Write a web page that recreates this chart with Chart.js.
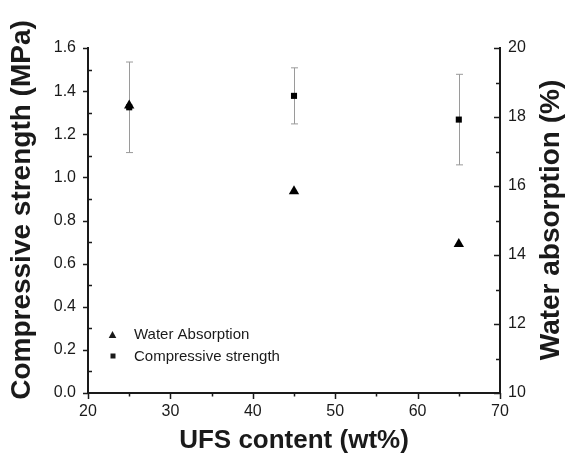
<!DOCTYPE html>
<html>
<head>
<meta charset="utf-8">
<title>UFS content vs strength and water absorption</title>
<script src="https://cdn.jsdelivr.net/npm/chart.js@4.4.0/dist/chart.umd.min.js"></script>
<style>
    html, body { margin: 0; padding: 0; background: #fff; }
    #wrap { width: 567px; height: 453px; }
</style>
</head>
<body>
<div id="wrap"><canvas id="chart"></canvas></div>
<script>
// UFS content (wt%)
const ufsContent = [25, 45, 65];
// Compressive strength (MPa) with error
const strength = [1.325, 1.378, 1.268];
const strengthErr = [0.21, 0.13, 0.21];
// Water absorption (%)
const absorption = [18.33, 15.85, 14.32];

// Axis ranges
const xRange = [20, 70];
const leftRange = [0, 1.6];
const rightRange = [10, 20];

const FONT = "'Liberation Sans', Arial, sans-serif";
const INK = '#1a1a1a';

// Gray error bars behind the squares
const errorBars = {
    id: 'errorBars',
    beforeDatasetsDraw(chart) {
        const ctx = chart.ctx;
        const x = chart.scales.x, y = chart.scales.y;
        ctx.save();
        ctx.strokeStyle = '#9a9a9a';
        ctx.lineWidth = 1;
        ufsContent.forEach((u, i) => {
            const px = Math.round(x.getPixelForValue(u)) + 0.5;
            const top = y.getPixelForValue(strength[i] + strengthErr[i]);
            const bot = y.getPixelForValue(strength[i] - strengthErr[i]);
            ctx.beginPath();
            ctx.moveTo(px, top); ctx.lineTo(px, bot);
            ctx.moveTo(px - 3.5, top); ctx.lineTo(px + 3.5, top);
            ctx.moveTo(px - 3.5, bot); ctx.lineTo(px + 3.5, bot);
            ctx.stroke();
        });
        ctx.restore();
    }
};

// Origin-style tick marks, side titles and inset legend
const axisDecor = {
    id: 'axisDecor',
    afterDraw(chart) {
        const ctx = chart.ctx;
        const {x, y, y2} = chart.scales;
        const a = chart.chartArea;
        ctx.save();
        ctx.strokeStyle = INK;
        ctx.lineWidth = 1.5;
        ctx.beginPath();
        // bottom: majors every 10, minors every 5, both outward
        for (let v = xRange[0]; v <= xRange[1]; v += 5) {
            const px = Math.round(x.getPixelForValue(v)) + 0.5;
            ctx.moveTo(px, a.bottom);
            ctx.lineTo(px, a.bottom + (v % 10 === 0 ? 6 : 3.5));
        }
        // left: majors outward, minors inward
        for (let i = 0; i <= 16; i++) {
            const py = Math.round(y.getPixelForValue(i / 10)) + 0.5;
            if (i % 2 === 0) { ctx.moveTo(a.left, py); ctx.lineTo(a.left - 5, py); }
            else { ctx.moveTo(a.left, py); ctx.lineTo(a.left + 4, py); }
        }
        // right: all inward
        for (let v = rightRange[0]; v <= rightRange[1]; v++) {
            const py = Math.round(y2.getPixelForValue(v)) + 0.5;
            ctx.moveTo(a.right, py);
            ctx.lineTo(a.right - (v % 2 === 0 ? 6 : 4), py);
        }
        ctx.stroke();

        // vertical titles, both read bottom to top
        ctx.fillStyle = INK;
        ctx.font = 'bold 28px ' + FONT;
        ctx.textAlign = 'center';
        ctx.textBaseline = 'middle';
        [[y, 22, 210], [y2, 551, 220]].forEach(([s, tx, ty]) => {
            ctx.save();
            ctx.translate(tx, ty);
            ctx.rotate(-Math.PI / 2);
            ctx.fillText(s.options.title.text, 0, 0);
            ctx.restore();
        });

        // legend
        ctx.font = '15px ' + FONT;
        ctx.textAlign = 'left';
        const rows = [[0, 112.5, 335], [1, 113, 356]];
        rows.forEach(([di, mx, my]) => {
            const ds = chart.data.datasets[di];
            ctx.beginPath();
            if (ds.pointStyle === 'triangle') {
                ctx.moveTo(mx, my - 4); ctx.lineTo(mx + 3.8, my + 3); ctx.lineTo(mx - 3.8, my + 3);
                ctx.closePath();
            } else {
                ctx.rect(mx - 2.5, my - 2.5, 5, 5);
            }
            ctx.fill();
            ctx.fillText(ds.label, 134, di === 0 ? 335 : 357);
        });
        ctx.restore();
    }
};

new Chart(document.getElementById('chart'), {
    type: 'scatter',
    data: {
        datasets: [
            {
                label: 'Water Absorption',
                data: ufsContent.map((u, i) => ({x: u, y: absorption[i]})),
                yAxisID: 'y2',
                pointStyle: 'triangle',
                pointRadius: 6,
                backgroundColor: '#000',
                borderColor: '#000',
                borderWidth: 0
            },
            {
                label: 'Compressive strength',
                data: ufsContent.map((u, i) => ({x: u, y: strength[i]})),
                yAxisID: 'y',
                pointStyle: 'rect',
                pointRadius: 4.3,
                backgroundColor: '#000',
                borderColor: '#000',
                borderWidth: 0
            }
        ]
    },
    options: {
        responsive: true,
        maintainAspectRatio: false,
        animation: false,
        events: [],
        layout: { padding: { top: 48, left: 0, right: 0, bottom: 0 } },
        plugins: { legend: { display: false }, tooltip: { enabled: false } },
        scales: {
            x: {
                type: 'linear',
                min: xRange[0], max: xRange[1],
                grid: { display: false, drawTicks: false },
                border: { display: true, color: INK, width: 2 },
                ticks: { stepSize: 10, color: INK, padding: 9, font: { family: FONT, size: 16 } },
                title: {
                    display: true, text: 'UFS content (wt%)', color: INK,
                    font: { family: FONT, size: 26, weight: 'bold', lineHeight: 0.9 },
                    padding: 0
                },
                afterFit(s) { s.height = 60; }
            },
            y: {
                position: 'left',
                min: leftRange[0], max: leftRange[1],
                grid: { display: false, drawTicks: false },
                border: { display: true, color: INK, width: 2 },
                ticks: {
                    stepSize: 0.2, color: INK, padding: 12,
                    font: { family: FONT, size: 16 },
                    callback: v => v.toFixed(1)
                },
                title: { display: false, text: 'Compressive strength (MPa)' },
                afterFit(s) { s.width = 88; }
            },
            y2: {
                position: 'right',
                min: rightRange[0], max: rightRange[1],
                grid: { display: false, drawTicks: false },
                border: { display: true, color: INK, width: 2 },
                ticks: { stepSize: 2, color: INK, padding: 8, font: { family: FONT, size: 16 } },
                title: { display: false, text: 'Water absorption (%)' },
                afterFit(s) { s.width = 67; }
            }
        }
    },
    plugins: [errorBars, axisDecor]
});
</script>
</body>
</html>
